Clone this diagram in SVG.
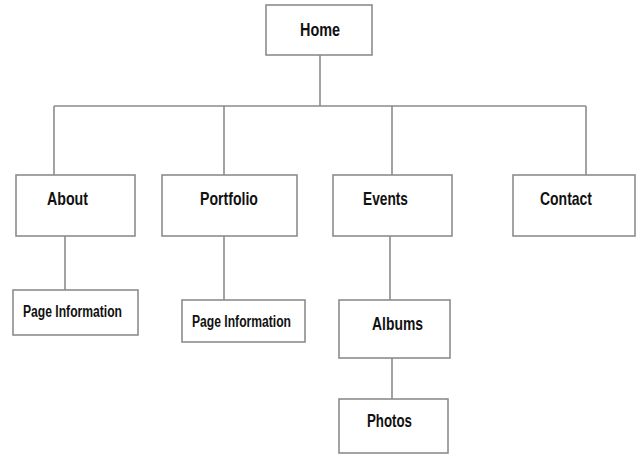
<svg xmlns="http://www.w3.org/2000/svg" width="637" height="455" viewBox="0 0 637 455">
<style>
.box{fill:#fff;stroke:#8c8c8c;stroke-width:1.6}
.ln{fill:none;stroke:#8c8c8c;stroke-width:1.6}
.t{font-family:"Liberation Sans",Arial,sans-serif;font-weight:bold;font-size:19px;fill:#111}
.s{font-family:"Liberation Sans",Arial,sans-serif;font-weight:bold;font-size:16px;fill:#111}
</style>
<rect width="637" height="455" fill="#fff"/>
<g id="connectors">
<path class="ln" d="M320 55V106M54 106H586M54 106V175M224 106V175M392 106V175M586 106V175"/>
<path class="ln" d="M65 236V290M224 236V300M390 236V300M392 358V399"/>
</g>
<g id="home"><rect class="box" x="266" y="5" width="106" height="50"/><text class="t" x="300" y="36" textLength="40" lengthAdjust="spacingAndGlyphs">Home</text></g>
<g id="about"><rect class="box" x="16" y="175" width="119" height="61"/><text class="t" x="47" y="205" textLength="41" lengthAdjust="spacingAndGlyphs">About</text></g>
<g id="portfolio"><rect class="box" x="162" y="175" width="135" height="61"/><text class="t" x="200" y="205" textLength="58" lengthAdjust="spacingAndGlyphs">Portfolio</text></g>
<g id="events"><rect class="box" x="333" y="175" width="119" height="61"/><text class="t" x="363" y="205" textLength="45" lengthAdjust="spacingAndGlyphs">Events</text></g>
<g id="contact"><rect class="box" x="513" y="175" width="122" height="61"/><text class="t" x="540" y="205" textLength="52" lengthAdjust="spacingAndGlyphs">Contact</text></g>
<g id="pageinfo1"><rect class="box" x="13" y="290" width="125" height="45"/><text class="s" x="23" y="317" textLength="99" lengthAdjust="spacingAndGlyphs">Page Information</text></g>
<g id="pageinfo2"><rect class="box" x="182" y="300" width="123" height="42"/><text class="s" x="192" y="327" textLength="99" lengthAdjust="spacingAndGlyphs">Page Information</text></g>
<g id="albums"><rect class="box" x="339" y="300" width="111" height="58"/><text class="t" x="372" y="330" textLength="51" lengthAdjust="spacingAndGlyphs">Albums</text></g>
<g id="photos"><rect class="box" x="339" y="399" width="109" height="54"/><text class="t" x="367" y="427" textLength="45" lengthAdjust="spacingAndGlyphs">Photos</text></g>
</svg>
